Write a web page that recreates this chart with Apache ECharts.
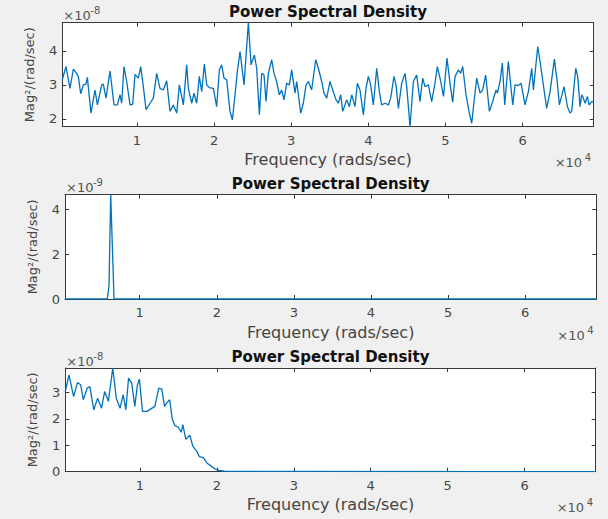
<!DOCTYPE html>
<html><head><meta charset="utf-8">
<script src="https://cdn.jsdelivr.net/npm/echarts@6/dist/echarts.min.js"></script>
<style>html,body{margin:0;padding:0;background:#f0f0f0}#c{width:608px;height:519px}</style>
</head><body><div id="c"></div>
<script>
// ---- data (x in units of 1e4 rad/sec, y in units shown by each axis' exponent) ----
const freq1 = [0.031,0.079,0.131,0.174,0.217,0.239,0.269,0.304,0.338,0.356,0.403,0.455,0.486,0.542,0.563,0.598,0.650,0.702,0.745,0.780,0.801,0.831,0.866,0.909,0.944,0.974,1.017,1.048,1.082,1.117,1.169,1.212,1.255,1.298,1.342,1.385,1.428,1.471,1.515,1.549,1.601,1.644,1.666,1.709,1.739,1.774,1.808,1.839,1.873,1.904,1.938,1.990,2.033,2.068,2.098,2.128,2.163,2.206,2.237,2.271,2.301,2.336,2.388,2.444,2.479,2.522,2.552,2.587,2.617,2.647,2.673,2.703,2.747,2.777,2.811,2.846,2.876,2.907,2.941,2.976,3.006,3.049,3.071,3.123,3.157,3.192,3.222,3.265,3.317,3.352,3.395,3.425,3.460,3.503,3.538,3.581,3.611,3.642,3.668,3.719,3.754,3.784,3.827,3.858,3.892,3.936,3.970,4.000,4.031,4.065,4.109,4.143,4.173,4.217,4.260,4.290,4.333,4.359,4.390,4.433,4.476,4.498,4.541,4.584,4.627,4.670,4.705,4.735,4.779,4.822,4.865,4.895,4.939,4.975,5.020,5.065,5.094,5.125,5.168,5.198,5.224,5.267,5.310,5.341,5.371,5.406,5.449,5.483,5.522,5.570,5.613,5.656,5.674,5.708,5.738,5.769,5.816,5.873,5.903,5.946,5.981,6.032,6.076,6.119,6.141,6.197,6.240,6.270,6.313,6.357,6.413,6.452,6.478,6.538,6.582,6.616,6.638,6.690,6.716,6.746,6.767,6.789,6.811,6.841,6.863,6.897,6.923];
const psd1 = [3.15,3.54,2.90,3.46,3.34,3.25,2.74,3.00,3.02,3.22,2.17,2.85,2.41,3.00,3.02,2.61,3.41,2.41,2.41,2.71,2.46,3.54,3.10,2.41,2.43,3.31,3.20,3.54,2.95,2.27,2.46,2.61,3.34,2.90,2.85,3.12,2.22,2.41,2.17,3.00,2.41,3.59,2.90,2.46,2.76,2.46,3.25,2.80,3.61,3.00,2.92,2.90,2.36,3.44,3.59,3.20,3.15,2.22,1.97,2.71,3.39,3.98,3.00,4.83,3.59,3.88,3.49,2.12,3.34,3.29,2.51,3.34,3.74,3.34,3.10,2.71,2.85,2.56,3.05,3.00,3.44,2.76,3.10,2.17,2.46,3.00,3.10,2.85,3.74,3.49,3.10,2.76,2.61,3.10,2.85,2.56,2.46,2.71,2.22,2.56,2.36,2.71,2.36,3.05,2.85,2.12,2.90,3.25,3.00,2.41,3.49,2.80,2.41,2.46,2.41,2.61,3.25,3.00,2.31,3.05,3.34,2.95,1.77,3.10,3.29,2.51,3.20,2.95,3.00,2.51,3.05,3.54,3.10,2.66,3.79,2.95,2.49,3.25,3.44,3.34,3.54,2.71,2.17,1.87,2.51,3.20,2.76,2.85,3.29,2.22,2.51,2.85,2.76,3.10,3.64,2.41,3.69,2.41,3.00,2.98,3.05,2.41,2.80,3.49,2.85,4.13,3.49,3.00,2.31,2.80,3.76,3.05,2.41,2.95,2.36,2.17,2.22,3.49,3.25,2.36,2.71,2.61,2.46,2.66,2.41,2.51,2.49];
const freq2 = [0.031,0.580,0.602,0.624,0.667,6.923];
const psd2 = [0,0,0.6,4.65,0,0];
const freq3 = [0.031,0.079,0.139,0.189,0.230,0.265,0.315,0.350,0.401,0.451,0.502,0.542,0.591,0.648,0.693,0.743,0.783,0.818,0.853,0.894,0.934,0.969,0.994,1.034,1.091,1.195,1.245,1.285,1.320,1.350,1.387,1.422,1.457,1.497,1.537,1.558,1.597,1.649,1.687,1.738,1.773,1.824,1.874,1.923,1.974,2.025,2.100,2.200,6.923];
const psd3 = [3.03,3.66,2.84,3.37,3.29,2.72,3.16,3.22,2.34,2.78,2.40,3.03,2.66,3.92,2.78,2.40,2.91,2.34,3.54,3.35,2.47,3.29,3.50,2.28,2.28,2.47,3.16,3.12,2.47,2.60,2.72,1.97,1.74,1.69,1.49,1.78,1.22,1.38,0.97,0.78,0.57,0.53,0.32,0.22,0.11,0.05,0.02,0.01,0];
const xTicks = [1,2,3,4,5,6];
const yTicks1 = [2,3,4];
const yTicks2 = [0,2,4];
const yTicks3 = [0,1,2,3];
const xRange = [0.031, 6.923];
const yRanges = [[1.77,4.83],[0,4.65],[0,3.92]];
const titleText = 'Power Spectral Density';
const xName = 'Frequency (rads/sec)';
const yName = 'Mag\u00B2/(rad/sec)';
const yExp = ['-8','-9','-8'];

// ---- styling / layout ----
const AX = '#383838', LBL = '#454545', LINE = '#0072BD';
const grids = [
  {left:62.3, top:22.7, width:531.4, height:104},
  {left:65, top:194.7, width:531.3, height:104.3},
  {left:65.3, top:368, width:530.4, height:103.7}
];
const yTicks = [yTicks1, yTicks2, yTicks3];
const series = [[freq1,psd1],[freq2,psd2],[freq3,psd3]];

const option = {
  animation:false,
  backgroundColor:'#f0f0f0',
  grid: grids.map(g => Object.assign({show:true, backgroundColor:'#ffffff', borderWidth:0, containLabel:false}, g)),
  xAxis: [], yAxis: [], series: [], graphic: []
};
grids.forEach((g,i) => {
  const tickBase = {show:true, inside:true, length:4, lineStyle:{color:AX, width:1}};
  option.xAxis.push({type:'value', gridIndex:i, position:'bottom', min:xRange[0], max:xRange[1],
    axisLine:{show:true, onZero:false, lineStyle:{color:AX, width:1}},
    axisTick:Object.assign({customValues:xTicks}, tickBase),
    axisLabel:{customValues:xTicks, color:LBL, fontFamily:'DejaVu Sans', fontSize:13, margin:7},
    splitLine:{show:false}});
  option.xAxis.push({type:'value', gridIndex:i, position:'top', min:xRange[0], max:xRange[1],
    axisLine:{show:true, onZero:false, lineStyle:{color:AX, width:1}},
    axisTick:Object.assign({customValues:xTicks}, tickBase),
    axisLabel:{show:false}, splitLine:{show:false}});
  option.yAxis.push({type:'value', gridIndex:i, position:'left', min:yRanges[i][0], max:yRanges[i][1],
    axisLine:{show:true, onZero:false, lineStyle:{color:AX, width:1}},
    axisTick:Object.assign({customValues:yTicks[i]}, tickBase),
    axisLabel:{customValues:yTicks[i], color:LBL, fontFamily:'DejaVu Sans', fontSize:13, margin:5},
    splitLine:{show:false}});
  option.yAxis.push({type:'value', gridIndex:i, position:'right', min:yRanges[i][0], max:yRanges[i][1],
    axisLine:{show:true, onZero:false, lineStyle:{color:AX, width:1}},
    axisTick:Object.assign({customValues:yTicks[i]}, tickBase),
    axisLabel:{show:false}, splitLine:{show:false}});
  const [fx, fy] = series[i];
  option.series.push({type:'line', xAxisIndex:2*i, yAxisIndex:2*i, showSymbol:false, symbol:'none',
    lineStyle:{color:LINE, width:1.3}, data: fx.map((f,k)=>[f, fy[k]]), z:3, clip:true});

  const cx = g.left + g.width/2;
  const txt = (x,y,text,font,fill,align,valign,rot) => ({type:'text', x:x, y:y, rotation:rot||0, silent:true,
    style:{text:text, font:font, fill:fill, textAlign:align, textVerticalAlign:valign, align:align, verticalAlign:valign}});
  // title
  option.graphic.push(txt(cx, g.top - 11, titleText, 'bold 15px "DejaVu Sans"', '#111', 'center', 'middle'));
  // x label
  option.graphic.push(txt(cx, g.top + g.height + 33, xName, '16px "DejaVu Sans"', LBL, 'center', 'middle'));
  // y label
  option.graphic.push(txt(g.left - 33, g.top + g.height/2, yName, '13px "DejaVu Sans"', LBL, 'center', 'middle', Math.PI/2));
  // x10^exp near y axis top
  option.graphic.push(txt(g.left + 1, g.top - 7, '\u00D710', '13px "DejaVu Sans"', '#555', 'left', 'middle'));
  option.graphic.push(txt(g.left + 28, g.top - 12, yExp[i], '10px "DejaVu Sans"', '#555', 'left', 'middle'));
  // x10^4 near x axis end
  option.graphic.push(txt(g.left + g.width - 39, g.top + g.height + 36, '\u00D710', '13px "DejaVu Sans"', '#555', 'left', 'middle'));
  option.graphic.push(txt(g.left + g.width - 9, g.top + g.height + 31, '4', '10px "DejaVu Sans"', '#555', 'left', 'middle'));
});

const chart = echarts.init(document.getElementById('c'), null, {renderer:'svg', width:608, height:519});
chart.setOption(option);
</script></body></html>
